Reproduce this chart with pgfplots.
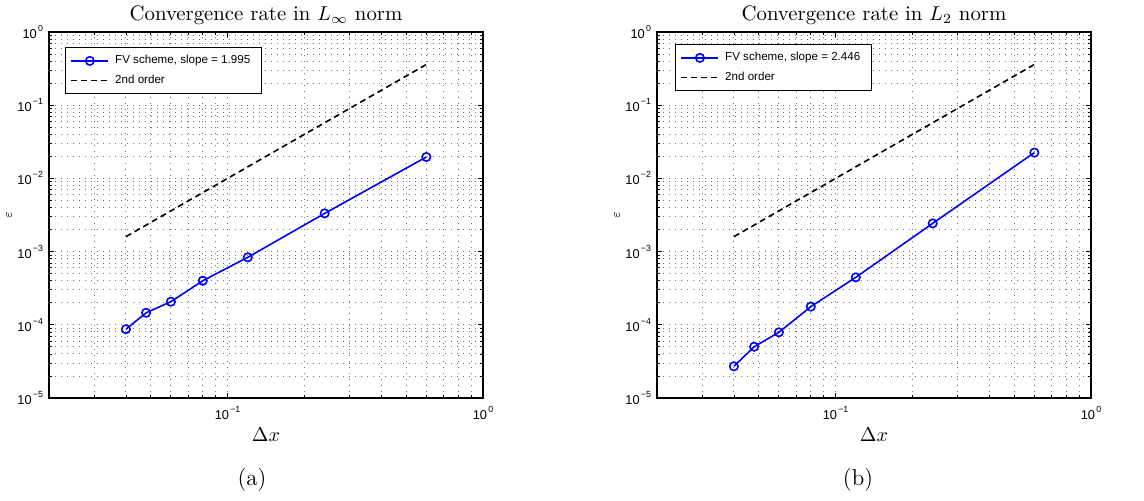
\documentclass[border=0pt]{standalone}
\usepackage{fontspec}
\setsansfont{Liberation Sans}
\usepackage{pgfplots}
\usepackage{pgfplotstable}
\pgfplotsset{compat=1.18}

\pgfplotstableread{
dx err
0.04 8.7e-5
0.048 1.46e-4
0.06 2.07e-4
0.08 4.0e-4
0.12 8.36e-4
0.24 3.33e-3
0.6 1.96e-2
}\tableinf

\pgfplotstableread{
dx err
0.04 2.71e-5
0.048 5.02e-5
0.06 7.9e-5
0.08 1.77e-4
0.12 4.45e-4
0.24 2.43e-3
0.6 2.25e-2
}\tabletwo

\newcommand{\tkl}[1]{10\kern0.6pt\raisebox{1.05ex}{\fontsize{4.4}{4.4}\selectfont #1}}

\pgfplotsset{
  legend image code/.code={\draw[mark repeat=2,mark phase=2,#1] plot coordinates {(0pt,0pt)(9.25pt,0pt)(18.5pt,0pt)};}
}

\begin{document}
\begin{tikzpicture}
\useasboundingbox (0,0) rectangle (572pt,250pt);
\begin{loglogaxis}[at={(24.5pt,51pt)}, anchor=south west,
  title={Convergence rate in $L_\infty$ norm},
  scale only axis, width=217pt, height=183pt,
  xmin=0.02, xmax=1, ymin=1e-5, ymax=1,
  xtick={0.1,1}, xticklabels={\tkl{−1},\tkl{0}},
  ytick={1e-5,1e-4,1e-3,1e-2,1e-1,1},
  yticklabels={\tkl{−5},\tkl{−4},\tkl{−3},\tkl{−2},\tkl{−1},\tkl{0}},
  minor xtick={0.02,0.03,0.04,0.05,0.06,0.07,0.08,0.09,0.2,0.3,0.4,0.5,0.6,0.7,0.8,0.9},
  minor ytick={2e-5,3e-5,4e-5,5e-5,6e-5,7e-5,8e-5,9e-5,2e-4,3e-4,4e-4,5e-4,6e-4,7e-4,8e-4,9e-4,2e-3,3e-3,4e-3,5e-3,6e-3,7e-3,8e-3,9e-3,2e-2,3e-2,4e-2,5e-2,6e-2,7e-2,8e-2,9e-2,0.2,0.3,0.4,0.5,0.6,0.7,0.8,0.9},
  grid=both,
  major grid style={black!55, line width=0.45pt, dash pattern=on 0.45pt off 2.55pt},
  minor grid style={black!55, line width=0.45pt, dash pattern=on 0.45pt off 2.55pt},
  axis line style={line width=0.7pt},
  tick style={black, line width=0.4pt},
  major tick length=2.5pt, minor tick length=1.5pt,
  tick label style={font=\sffamily\fontsize{6.4}{7}\selectfont},
  xticklabel style={yshift=-0.5pt},
  yticklabel style={xshift=0.5pt},
  xlabel={$\Delta x$},
  ylabel={$\varepsilon$},
  xlabel style={font=\fontsize{10}{12}\selectfont, yshift=2.5pt},
  ylabel style={font=\fontsize{6}{7}\selectfont, yshift=-4pt},
  title style={font=\fontsize{10.4}{12}\selectfont, yshift=-6pt},
  legend style={at={(0,1)}, anchor=north west, xshift=8pt, yshift=-7.5pt,
    font=\sffamily\fontsize{5.8}{7}\selectfont, draw=black, line width=0.6pt,
    fill=white, inner xsep=2.5pt, inner ysep=1.8pt, row sep=0pt,
    nodes={inner xsep=3pt}},
  legend cell align=left]
\addplot[blue, line width=0.8pt, mark=o, mark size=2.1pt, mark options={line width=0.8pt, solid}] table[x=dx,y=err] {\tableinf};
\addlegendentry{FV scheme, slope = 1.995}
\addplot[black, line width=0.8pt, dash pattern=on 3pt off 2pt] coordinates {(0.04,0.0016) (0.6,0.36)};
\addlegendentry{2nd order}
\end{loglogaxis}
\begin{loglogaxis}[at={(328.5pt,51pt)}, anchor=south west,
  title={Convergence rate in $L_2$ norm},
  scale only axis, width=217pt, height=183pt,
  xmin=0.02, xmax=1, ymin=1e-5, ymax=1,
  xtick={0.1,1}, xticklabels={\tkl{−1},\tkl{0}},
  ytick={1e-5,1e-4,1e-3,1e-2,1e-1,1},
  yticklabels={\tkl{−5},\tkl{−4},\tkl{−3},\tkl{−2},\tkl{−1},\tkl{0}},
  minor xtick={0.02,0.03,0.04,0.05,0.06,0.07,0.08,0.09,0.2,0.3,0.4,0.5,0.6,0.7,0.8,0.9},
  minor ytick={2e-5,3e-5,4e-5,5e-5,6e-5,7e-5,8e-5,9e-5,2e-4,3e-4,4e-4,5e-4,6e-4,7e-4,8e-4,9e-4,2e-3,3e-3,4e-3,5e-3,6e-3,7e-3,8e-3,9e-3,2e-2,3e-2,4e-2,5e-2,6e-2,7e-2,8e-2,9e-2,0.2,0.3,0.4,0.5,0.6,0.7,0.8,0.9},
  grid=both,
  major grid style={black!55, line width=0.45pt, dash pattern=on 0.45pt off 2.55pt},
  minor grid style={black!55, line width=0.45pt, dash pattern=on 0.45pt off 2.55pt},
  axis line style={line width=0.7pt},
  tick style={black, line width=0.4pt},
  major tick length=2.5pt, minor tick length=1.5pt,
  tick label style={font=\sffamily\fontsize{6.4}{7}\selectfont},
  xticklabel style={yshift=-0.5pt},
  yticklabel style={xshift=0.5pt},
  xlabel={$\Delta x$},
  ylabel={$\varepsilon$},
  xlabel style={font=\fontsize{10}{12}\selectfont, yshift=2.5pt},
  ylabel style={font=\fontsize{6}{7}\selectfont, yshift=-4pt},
  title style={font=\fontsize{10.4}{12}\selectfont, yshift=-6pt},
  legend style={at={(0,1)}, anchor=north west, xshift=9pt, yshift=-6pt,
    font=\sffamily\fontsize{5.8}{7}\selectfont, draw=black, line width=0.6pt,
    fill=white, inner xsep=2.5pt, inner ysep=1.8pt, row sep=0pt,
    nodes={inner xsep=3pt}},
  legend cell align=left]
\addplot[blue, line width=0.8pt, mark=o, mark size=2.1pt, mark options={line width=0.8pt, solid}] table[x=dx,y=err] {\tabletwo};
\addlegendentry{FV scheme, slope = 2.446}
\addplot[black, line width=0.8pt, dash pattern=on 3pt off 2pt] coordinates {(0.04,0.0016) (0.6,0.36)};
\addlegendentry{2nd order}
\end{loglogaxis}
\node[font=\fontsize{11.5}{13}\selectfont] at (126pt,10pt) {(a)};
\node[font=\fontsize{11.5}{13}\selectfont] at (429pt,10pt) {(b)};
\end{tikzpicture}
\end{document}
